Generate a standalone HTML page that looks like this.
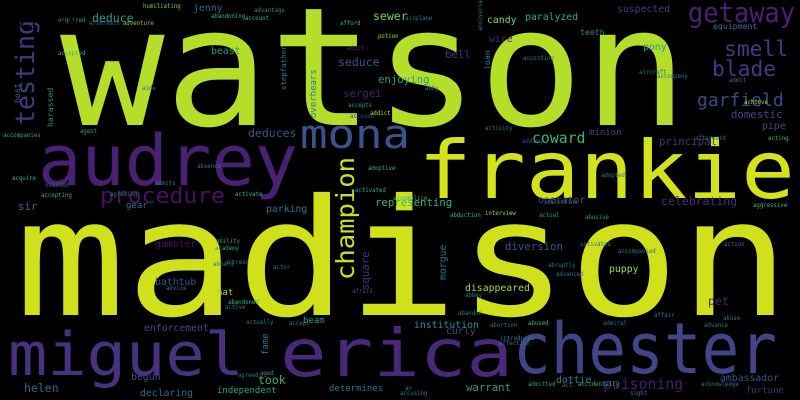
<!DOCTYPE html>
<html><head><meta charset="utf-8"><style>
html,body{margin:0;padding:0;background:#000;}
svg{display:block;}
text{font-family:"DejaVu Sans Mono","Liberation Mono",monospace;}
</style></head><body>
<svg id="cloud" width="800" height="400" viewBox="0 0 800 400" xmlns="http://www.w3.org/2000/svg">
<rect width="800" height="400" fill="#000"/>
</svg>
<script>
const words = ["watson","madison","frankie","audrey","miguel","chester","erica","mona","champion","procedure","testing","getaway","smell","blade","garfield",
"deduce","jenny","sewer","harassed","host","beast","stepfather","seduce","enjoying","sergei","overhears","deduces","sir","gear","parking","representing",
"gambler","bathtub","hat","square","morgue","diversion","puppy","disappeared","pet","institution","curly","enforcement","beam","fame","took","helen","begun",
"declaring","independent","determines","warrant","dottie","poisoning","ambassador","fortune","celebrating","operator","coward","minion","principal","domestic",
"pipe","pony","suspected","equipment","candy","paralyzed","teeth","wire","bell","joan","humiliating","airplane","advantage","account","accepted","acquired",
"aftermath","adventure","abandoning","afford","potion","adopt","accused","accepts","addict","aide","agent","accompanies","absence","adoptive","acquire",
"visited","admits","accepting","agreeing","activate","activated","accomplice","interview","abduction","abusive","aggressive","valentine","actual","according",
"aircraft","accompany","abby","achieve","admit","acting","afterward","adopted","adding","ability","academy","actress","aboard","actor","advice","afraid",
"abandoned","active","actually","accept","aged","agreed","activates","accompanied","advanced","abruptly","action","abbey","abandon","affair","abuse","abused",
"abortion","admiral","advance","admitted","act","accidentally","acknowledge","sight","accusing","an","affection","introduces","activity","anniversary","accident","ahead","aid","air"];
const xs = [60,15,418,38,8,513,280,300,354,100,34,688,724,712,697,
92,193,373,53,20,211,286,338,378,343,316,248,18,126,266,375,
155,155,217,369,446,505,609,465,708,414,446,144,303,268,258,24,131,
140,217,329,466,556,603,720,746,661,538,532,589,659,731,
762,643,617,713,487,525,580,489,445,490,143,405,254,245,58,58,
89,123,211,340,378,347,350,348,370,142,80,3,197,368,12,
45,155,41,110,235,355,393,485,450,585,753,547,539,
523,639,657,425,744,729,768,695,601,522,216,215,225,213,273,166,
352,228,225,246,289,260,238,580,618,556,548,724,465,458,
654,723,528,490,603,704,528,562,578,701,630,400,405,499,500,485,482];
const ys = [125,315,198,185,375,373,376,148,280,203,125,22,56,76,106,
22,11,20,127,103,54,90,66,83,97,118,137,210,208,212,206,
247,285,295,290,280,250,272,291,305,328,334,331,323,355,384,392,380,
396,393,391,391,383,389,381,393,205,203,143,135,145,118,
129,50,12,29,23,20,35,42,58,70,8,20,12,20,55,22,
25,25,18,25,38,50,118,107,115,90,133,137,168,170,180,
187,185,197,196,196,192,200,215,217,219,207,204,217,
60,74,78,90,104,82,140,140,177,143,243,250,264,266,269,290,
293,304,309,324,325,375,377,246,253,276,267,246,297,315,
317,320,325,327,325,327,386,387,386,386,395,395,390,345,340,130,31,30];
const sizes = [165,162,80,70,60,70,66,40,25,22,26,28,26,26,22,
14,12,14,10,10,12,9,14,13,13,11,14,13,11,12,13,
12,12,11,13,12,13,12,12,14,12,12,12,11,11,14,14,12,
12,11,11,13,12,18,12,11,14,12,18,11,13,13,
12,12,12,10,12,12,10,12,13,10,7,7,7,7,7,7,
7,7,7,7,7,7,7,7,7,7,7,7,7,7,7,
7,7,7,7,7,7,7,7,7,7,7,7,7,
7,7,7,7,7,7,7,7,7,7,7,7,7,7,7,7,
7,7,7,7,7,7,7,7,7,7,7,7,7,7,
7,7,7,7,7,7,7,7,7,7,7,7,7,7,7,7,7];
const colors = ["#b5de2b","#d0e11c","#d2e21b","#482173","#46327e","#414487","#482878","#3b528b","#c8e020","#471164","#453781","#482173","#443983","#443983","#3e4989",
"#2a9d8a","#31688e","#7ad151","#2e8f6f","#31688e","#1f9a8a","#2a788e","#3b528b","#1f9e89","#481f70","#26828e","#3b528b","#31688e","#31688e","#2c728e","#35b779",
"#471164","#3b528b","#a0da39","#46327e","#2c728e","#3b528b","#a0da39","#a0da39","#482878","#21918c","#3e4989","#3e4989","#1f9e89","#2c728e","#35b779","#31688e","#3b528b",
"#31688e","#22a884","#2c728e","#1fa088","#26828e","#481f70","#3b528b","#472d7b","#472d7b","#3e4989","#35b779","#3e4989","#46327e","#3e4989",
"#3e4989","#2a9d8a","#443983","#2a788e","#8fd744","#2ab07f","#26828e","#482878","#46327e","#2a788e","#75d054","#2a788e","#3e8a5e","#35b779","#35b779","#2a9d8a",
"#31688e","#7ad151","#35b779","#35b779","#a0da39","#472d7b","#3e4989","#2a9d8a","#a0da39","#31688e","#2a9d8a","#2ab07f","#2a788e","#35b779","#35b779",
"#31688e","#2a788e","#35b779","#2a788e","#35b779","#2ab07f","#2ab07f","#a0da39","#35b779","#2a9d8a","#35b779","#2c728e","#2a9d8a",
"#2a788e","#2c728e","#2a788e","#2a788e","#a0da39","#2a788e","#35b779","#2a788e","#2a788e","#3e4989","#2a9d8a","#2a9d8a","#2a788e","#2a788e","#2a788e","#2a788e",
"#3e4989","#35b779","#2a788e","#2a788e","#2a788e","#2a9d8a","#2a788e","#31688e","#2a788e","#2a788e","#2a788e","#2a788e","#2a788e","#2a788e",
"#2a788e","#2a788e","#35b779","#2a788e","#2a788e","#2a788e","#2a9d8a","#2a788e","#35b779","#2a788e","#2a788e","#2a788e","#2a788e","#2a788e","#2a788e","#2a788e","#2a788e"];
const vertical = {"champion":1,"testing":1,"harassed":1,"host":1,"stepfather":1,"overhears":1,"square":1,"morgue":1,"fame":1,"joan":1,"anniversary":1,"accident":1};
const widths = {"watson":628,"madison":775,"frankie":377,"audrey":260,"miguel":236,"chester":264,"erica":233,"mona":110,"champion":123,"procedure":125,"testing":105,"getaway":107};
const SMALL_SCALE = 0.82;

const svg = document.getElementById('cloud');
const NS = "http://www.w3.org/2000/svg";
for (let i = 0; i < words.length; i++) {
  const big = !!widths[words[i]];
  const t = document.createElementNS(NS, 'text');
  
  
  t.setAttribute('x', xs[i]);
  t.setAttribute('y', ys[i]);
  t.setAttribute('font-size', big ? sizes[i] : (sizes[i] * SMALL_SCALE).toFixed(1));
  t.setAttribute('fill', colors[i]);
  if (big) {
    t.setAttribute('textLength', widths[words[i]]);
    t.setAttribute('lengthAdjust', 'spacingAndGlyphs');
  }
  if (vertical[words[i]]) {
    t.setAttribute('transform', 'rotate(-90 ' + xs[i] + ' ' + ys[i] + ')');
  }
  t.textContent = words[i];
  svg.appendChild(t);
}
</script>
</body></html>
